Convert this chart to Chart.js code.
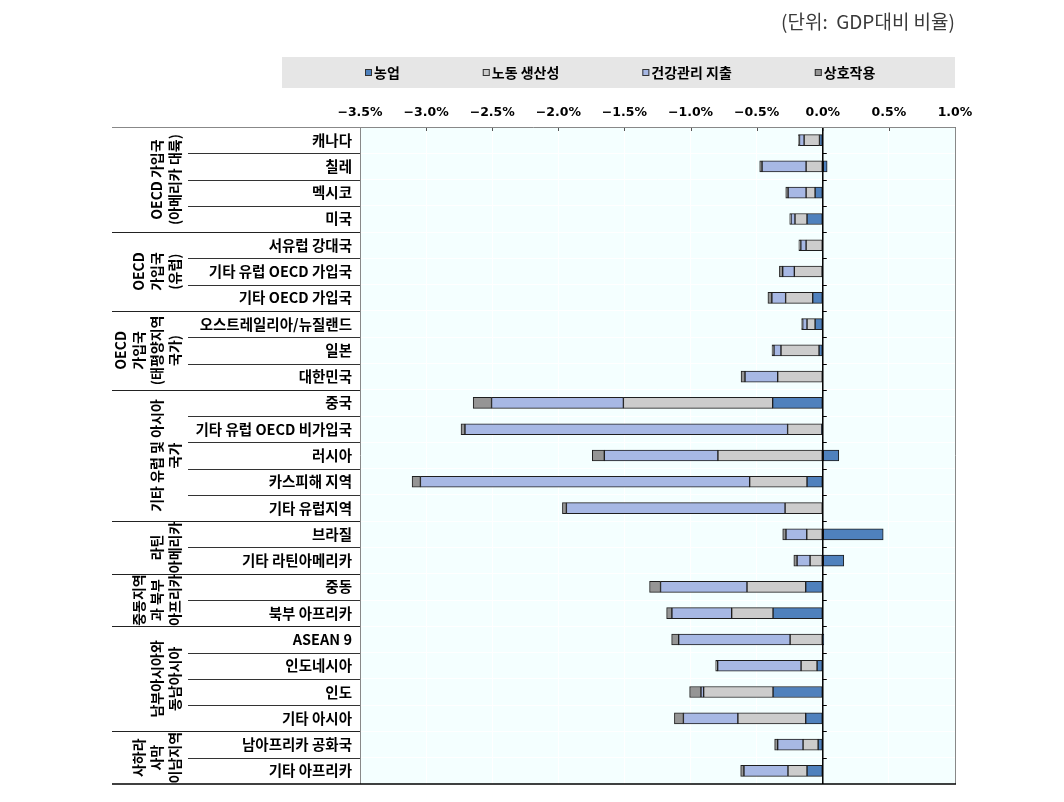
<!DOCTYPE html>
<html>
<head>
<meta charset="utf-8">
<script src="https://cdn.jsdelivr.net/npm/chart.js@4"></script>
<style>
  body { margin: 0; background: #fff; }
</style>
</head>
<body>
<canvas id="chart" width="1064" height="802"></canvas>
<script>
// 데이터
const regions = [
  "캐나다", "칠레", "멕시코", "미국",
  "서유럽 강대국", "기타 유럽 OECD 가입국", "기타 OECD 가입국",
  "오스트레일리아/뉴질랜드", "일본", "대한민국",
  "중국", "기타 유럽 OECD 비가입국", "러시아", "카스피해 지역", "기타 유럽지역",
  "브라질", "기타 라틴아메리카",
  "중동", "북부 아프리카",
  "ASEAN 9", "인도네시아", "인도", "기타 아시아",
  "남아프리카 공화국", "기타 아프리카"
];
const agriculture = [-0.025, 0.033, -0.058, -0.119, 0, -0.005, -0.076, -0.058, -0.028, 0,
  -0.379, -0.008, 0.121, -0.119, 0, 0.457, 0.159, -0.129, -0.376, 0.008,
  -0.043, -0.376, -0.129, -0.035, -0.119];
const labour = [-0.116, -0.126, -0.068, -0.091, -0.126, -0.21, -0.205, -0.061, -0.288, -0.341,
  -1.129, -0.258, -0.793, -0.434, -0.285, -0.121, -0.096, -0.444, -0.313, -0.247,
  -0.121, -0.525, -0.513, -0.114, -0.144];
const health = [-0.035, -0.333, -0.136, -0.030, -0.040, -0.088, -0.104, -0.033, -0.053, -0.247,
  -0.997, -2.44, -0.859, -2.49, -1.654, -0.157, -0.098, -0.654, -0.452, -0.843,
  -0.631, -0.020, -0.412, -0.192, -0.333];
const interaction = [-0.008, -0.018, -0.018, -0.010, -0.015, -0.025, -0.030, -0.008, -0.015, -0.030,
  -0.139, -0.030, -0.091, -0.063, -0.030, -0.025, -0.025, -0.083, -0.040, -0.053,
  -0.015, -0.086, -0.068, -0.023, -0.025];

// 그룹 (시작 행, 행 수, 줄)
const groups = [
  [0, 4, ["OECD 가입국", "(아메리카 대륙)"]],
  [4, 3, ["OECD", "가입국", "(유럽)"]],
  [7, 3, ["OECD", "가입국", "(태평양지역", "국가)"]],
  [10, 5, ["기타 유럽 및 아시아", "국가"]],
  [15, 2, ["라틴", "아메리카"]],
  [17, 2, ["중동지역", "과 북부", "아프리카"]],
  [19, 4, ["남부아시아와", "동남아시아"]],
  [23, 2, ["사하라", "사막", "이남지역"]]
];
const unitText = "(단위:  GDP대비 비율)";

const FONT = '"Noto Sans CJK KR", "Noto Sans", sans-serif';
const LABEL_LEFT = 112, CAT_LEFT = 188, PLOT_LEFT = 360;

// 보조 그리기
const decor = {
  id: "decor",
  beforeDraw(chart) {
    const { ctx, chartArea: a } = chart;
    ctx.save();
    ctx.fillStyle = "#f4ffff";
    ctx.fillRect(a.left, a.top, a.right - a.left, a.bottom - a.top);
    ctx.restore();
  },
  afterDatasetsDraw(chart) {
    const { ctx, chartArea: a, scales } = chart;
    const x0 = scales.x.getPixelForValue(0);
    const ys = scales.y;
    ctx.save();
    // 0 축
    ctx.strokeStyle = "#000";
    ctx.lineWidth = 1.5;
    ctx.beginPath();
    ctx.moveTo(x0, a.top); ctx.lineTo(x0, a.bottom);
    ctx.stroke();
    ctx.lineWidth = 1;
    for (let i = 1; i < regions.length; i++) {
      const y = Math.round((ys.getPixelForValue(i - 1) + ys.getPixelForValue(i)) / 2) + 0.5;
      ctx.beginPath(); ctx.moveTo(x0, y); ctx.lineTo(x0 + 4, y); ctx.stroke();
    }
    // 상단 눈금
    ctx.strokeStyle = "#555";
    scales.x.ticks.forEach(t => {
      const x = Math.round(scales.x.getPixelForValue(t.value)) + 0.5;
      ctx.beginPath(); ctx.moveTo(x, a.top); ctx.lineTo(x, a.top + 4); ctx.stroke();
    });
    ctx.restore();
  },
  afterDraw(chart) {
    const { ctx, chartArea: a, scales } = chart;
    const ys = scales.y;
    ctx.save();
    // 테두리
    ctx.strokeStyle = "#888";
    ctx.lineWidth = 1;
    ctx.beginPath();
    ctx.moveTo(LABEL_LEFT, a.top + 0.5); ctx.lineTo(a.right + 0.5, a.top + 0.5);
    ctx.lineTo(a.right + 0.5, a.bottom);
    ctx.moveTo(a.left + 0.5, a.top); ctx.lineTo(a.left + 0.5, a.bottom);
    ctx.stroke();
    ctx.strokeStyle = "#000";
    ctx.lineWidth = 1.5;
    ctx.beginPath();
    ctx.moveTo(LABEL_LEFT, a.bottom); ctx.lineTo(a.right + 1, a.bottom);
    ctx.stroke();
    // 행 구분선
    const starts = new Set(groups.map(g => g[0]));
    ctx.lineWidth = 1;
    for (let i = 1; i < regions.length; i++) {
      const y = Math.round((ys.getPixelForValue(i - 1) + ys.getPixelForValue(i)) / 2) + 0.5;
      ctx.strokeStyle = starts.has(i) ? "#222" : "#333";
      ctx.beginPath();
      ctx.moveTo(starts.has(i) ? LABEL_LEFT : CAT_LEFT, y);
      ctx.lineTo(PLOT_LEFT, y);
      ctx.stroke();
    }
    // 그룹 라벨
    ctx.fillStyle = "#000";
    ctx.font = "bold 14px " + FONT;
    ctx.textAlign = "center";
    ctx.textBaseline = "middle";
    groups.forEach(([s, n, lines]) => {
      const yc = (ys.getPixelForValue(s) + ys.getPixelForValue(s + n - 1)) / 2;
      lines.forEach((ln, k) => {
        const x = 175 - 18 * (lines.length - 1 - k);
        ctx.save();
        ctx.translate(x, yc);
        ctx.rotate(-Math.PI / 2);
        ctx.fillText(ln, 0, 0);
        ctx.restore();
      });
    });
    // 단위
    ctx.font = "19px " + FONT;
    ctx.fillStyle = "#3a3a3a";
    ctx.textAlign = "right";
    ctx.fillText(unitText, a.right, 22);
    // 범례
    ctx.fillStyle = "#e6e6e6";
    ctx.fillRect(282, 57, a.right - 282, 31);
    ctx.font = "bold 14px " + FONT;
    ctx.textAlign = "left";
    const ds = chart.data.datasets;
    const gap = 83, box = 7;
    const widths = ds.map(d => box + 2 + ctx.measureText(d.label).width);
    const total = widths.reduce((p, c) => p + c, 0) + gap * (ds.length - 1);
    let x = Math.round(620 - total / 2);
    ds.forEach((d, i) => {
      ctx.fillStyle = d.backgroundColor;
      ctx.fillRect(x, 69, box, box);
      ctx.strokeStyle = "#333";
      ctx.strokeRect(x + 0.5, 69.5, box - 1, box - 1);
      ctx.fillStyle = "#000";
      ctx.fillText(d.label, x + box + 2, 73);
      x += widths[i] + gap;
    });
    ctx.restore();
  }
};

const mk = (label, data, color) => ({
  label, data,
  backgroundColor: color,
  borderColor: "#1e1e1e",
  borderWidth: 1,
  borderSkipped: false,
  barThickness: 11
});

new Chart(document.getElementById("chart"), {
  type: "bar",
  data: {
    labels: regions,
    datasets: [
      mk("농업", agriculture, "#4f81bd"),
      mk("노동 생산성", labour, "#cccccc"),
      mk("건강관리 지출", health, "#a7b8e4"),
      mk("상호작용", interaction, "#959595")
    ]
  },
  options: {
    indexAxis: "y",
    responsive: false,
    animation: false,
    layout: { padding: { top: 97, right: 109, bottom: 18, left: 0 } },
    plugins: { legend: { display: false }, title: { display: false }, tooltip: { enabled: false } },
    scales: {
      x: {
        position: "top",
        stacked: true,
        min: -3.5, max: 1.0,
        border: { display: false },
        grid: { color: "#ffffff", lineWidth: 1, drawTicks: false },
        ticks: {
          stepSize: 0.5,
          padding: 7,
          color: "#000",
          font: { family: '"DejaVu Sans", sans-serif', size: 12.5, weight: "bold" },
          callback: v => (v < 0 ? "\u2212" : "") + Math.abs(v).toFixed(1) + "%"
        },
        afterFit: s => { s.height = 30; }
      },
      y: {
        stacked: true,
        border: { display: false },
        grid: { color: "#ffffff", lineWidth: 1, drawTicks: false, offset: true },
        ticks: {
          padding: 8,
          color: "#000",
          autoSkip: false,
          font: { family: FONT, size: 14.5, weight: "bold" }
        },
        afterFit: s => { s.width = PLOT_LEFT; }
      }
    }
  },
  plugins: [decor]
});
</script>
</body>
</html>
